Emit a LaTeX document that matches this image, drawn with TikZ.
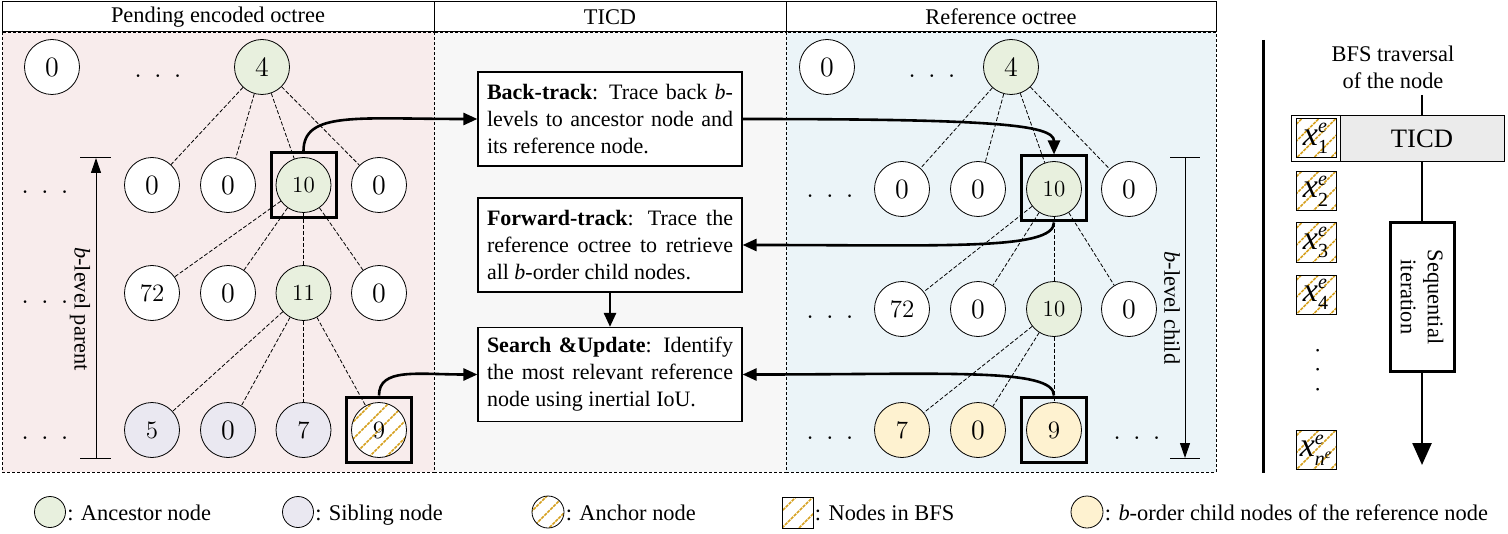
\documentclass[tikz,border=0pt]{standalone}
\usepackage{fontspec}
\setmainfont{Liberation Serif}
\newfontfamily\cmfont{Latin Modern Roman}
\usetikzlibrary{arrows.meta,calc}

\definecolor{ancG}{RGB}{232,240,222}
\definecolor{sibP}{RGB}{234,232,241}
\definecolor{chY}{RGB}{254,242,208}
\definecolor{bgL}{RGB}{248,236,236}
\definecolor{bgM}{RGB}{247,247,247}
\definecolor{bgR}{RGB}{235,244,248}
\definecolor{ticdG}{RGB}{235,235,235}
\definecolor{gold}{RGB}{214,160,30}

\newcommand{\scr}[1]{\mbox{\fontsize{10}{10}\selectfont #1}}
\newcommand{\xlabel}[1]{$\mbox{\itshape x}^{\scr{\itshape e}}_{\scr{#1}}$}

\tikzset{
 tn/.style={circle,draw,line width=0.4pt,minimum size=27.5pt,inner sep=0pt,fill=white,font=\cmfont\fontsize{12.5}{12.5}\selectfont},
 bignum/.style={font=\cmfont\fontsize{14}{14}\selectfont},
 smallnum/.style={font=\cmfont\fontsize{11.5}{11.5}\selectfont},
 anc/.style={fill=ancG}, sib/.style={fill=sibP}, chd/.style={fill=chY},
 hatchline/.style={draw=gold,line width=0.8pt,dash pattern=on 1.6pt off 0.5pt},
 hatched/.style={path picture={\foreach \d in {-68,-51,...,68}{\draw[hatchline] ([xshift=\d*0.5pt-30pt,yshift=-30pt]path picture bounding box.center) -- ++(60pt,60pt);}}},
 sq/.style={draw,line width=1.5pt,minimum size=32.5pt,inner sep=0pt},
 edge/.style={line width=0.4pt,dash pattern=on 2pt off 1pt},
 flow/.style={line width=1.3pt,-{Triangle[length=7pt,width=6pt]}},
 stepbox/.style={draw,line width=0.6pt,fill=white,text width=123pt,inner xsep=4.5pt,minimum height=47pt,align=justify,font=\fontsize{11}{13.5}\selectfont},
 hdr/.style={draw,line width=0.5pt,inner sep=0pt,minimum height=15pt,font=\fontsize{11.2}{13}\selectfont},
 txt/.style={font=\fontsize{11.2}{13.5}\selectfont},
 dots/.style={font=\cmfont\fontsize{14}{14}\selectfont,inner sep=0pt},
 panel/.style={line width=0.4pt,dash pattern=on 1.5pt off 1pt},
 bfsq/.style={draw,line width=0.5pt,fill=white,minimum width=20pt,minimum height=19.5pt,inner sep=0pt,hatched},
 xlab/.style={font=\fontsize{17}{17}\selectfont,inner sep=0pt},
 barrow/.style={line width=0.5pt,-{Triangle[length=7.5pt,width=5pt]}},
}

\begin{document}
\begin{tikzpicture}[x=0.5pt,y=-0.5pt]
\useasboundingbox (0,0) rectangle (1508,534);

% panels
\draw[panel,fill=bgL] (2,32) rectangle (434,472);
\draw[panel,fill=bgM] (434,32) rectangle (786,472);
\draw[panel,fill=bgR] (786,32) rectangle (1216,472);

% headers
\node[hdr,minimum width=216pt] (hL) at (218,17) {Pending encoded octree};
\node[hdr,minimum width=176pt] (hM) at (610,17) {TICD};
\node[hdr,minimum width=215pt] (hR) at (1001,17) {Reference octree};

% ---------- left tree ----------
\node[tn,bignum] (L0) at (52,67) {0};
\node[tn,bignum,anc] (L4) at (262,67) {4};
\node[tn,bignum] (La) at (152,185) {0};
\node[tn,bignum] (Lb) at (228,185) {0};
\node[tn,smallnum,anc] (Lc) at (303.5,185) {10};
\node[tn,bignum] (Ld) at (379,185) {0};
\node[tn] (Le) at (152,293) {72};
\node[tn,bignum] (Lf) at (228,293) {0};
\node[tn,smallnum,anc] (Lg) at (303.5,293) {11};
\node[tn,bignum] (Lh) at (379,293) {0};
\node[tn,sib] (Li) at (152,430) {5};
\node[tn,bignum,sib] (Lj) at (228,430) {0};
\node[tn,sib] (Lk) at (303.5,430) {7};
\node[tn,hatched] (Ll) at (379,430) {9};

\node[dots] (ld1) at (158,76) {. . .};
\node[dots] (ld2) at (45,192) {. . .};
\node[dots] (ld3) at (45,302) {. . .};
\node[dots] (ld4) at (45,438) {. . .};

\foreach \c in {La,Lb,Lc,Ld} \draw[edge] (L4) -- (\c);
\foreach \c in {Le,Lf,Lg,Lh} \draw[edge] (Lc) -- (\c);
\foreach \c in {Li,Lj,Lk,Ll} \draw[edge] (Lg) -- (\c);

\node[sq] (sqL10) at (303.5,185) {};
\node[sq] (sqL9) at (379,429.5) {};

% b-level parent
\coordinate (lpT) at (96,158);
\coordinate (lpB) at (96,458);
\draw[barrow] (lpB) -- (lpT);
\draw[line width=0.5pt] ([xshift=-8pt]lpT) -- ([xshift=7.5pt]lpT);
\draw[line width=0.5pt] ([xshift=-8pt]lpB) -- ([xshift=7.5pt]lpB);
\node[txt,rotate=-90] (lpl) at (80,309) {\textit{b}-level parent};

% ---------- right tree ----------
\node[tn,bignum] (R0) at (827,67) {0};
\node[tn,bignum,anc] (R4) at (1011,67) {4};
\node[tn,bignum] (Ra) at (902,189) {0};
\node[tn,bignum] (Rb) at (978,189) {0};
\node[tn,smallnum,anc] (Rc) at (1054,189) {10};
\node[tn,bignum] (Rd) at (1129,189) {0};
\node[tn] (Re) at (902,309) {72};
\node[tn,bignum] (Rf) at (978,309) {0};
\node[tn,smallnum,anc] (Rg) at (1054,309) {10};
\node[tn,bignum] (Rh) at (1129,309) {0};
\node[tn,chd] (Ri) at (902,430) {7};
\node[tn,bignum,chd] (Rj) at (978,430) {0};
\node[tn,chd] (Rk) at (1054,430) {9};

\node[dots] (rd1) at (932,76) {. . .};
\node[dots] (rd2) at (830,196) {. . .};
\node[dots] (rd3) at (830,317) {. . .};
\node[dots] (rd4) at (830,438) {. . .};
\node[dots] (rd5) at (1137,438) {. . .};

\foreach \c in {Ra,Rb,Rc,Rd} \draw[edge] (R4) -- (\c);
\foreach \c in {Re,Rf,Rg,Rh} \draw[edge] (Rc) -- (\c);
\foreach \c in {Ri,Rj,Rk} \draw[edge] (Rg) -- (\c);

\node[sq] (sqR10) at (1054,188.5) {};
\node[sq] (sqR9) at (1054,429.5) {};

% b-level child
\coordinate (rcT) at (1185,158);
\coordinate (rcB) at (1185,458);
\draw[barrow] (rcT) -- (rcB);
\draw[line width=0.5pt] ([xshift=-7.5pt]rcT) -- ([xshift=7.5pt]rcT);
\draw[line width=0.5pt] ([xshift=-7.5pt]rcB) -- ([xshift=7.5pt]rcB);
\node[txt,rotate=-90] (rcl) at (1172,308) {\textit{b}-level child};

% ---------- middle boxes ----------
\node[stepbox] (back) at (610,119) {\textbf{Back-track}: Trace back \textit{b}-\linebreak levels to ancestor node and\linebreak its reference node.};
\node[stepbox] (fwd) at (610,245) {\textbf{Forward-track}: Trace the\linebreak reference octree to retrieve\linebreak all \textit{b}-order child nodes.};
\node[stepbox] (search) at (610,374.5) {\textbf{Search \&Update}: Identify\linebreak the most relevant reference\linebreak node using inertial IoU.};

\draw[flow] (sqL10.north) .. controls +(0,-40) and +(-120,0) .. (back.west);
\draw[flow] (back.east) .. controls +(250,0) and +(0,-30) .. (sqR10.north);
\draw[flow] (sqR10.south) .. controls +(0,28) and +(200,0) .. (fwd.east);
\draw[flow] (fwd.south) -- (search.north);
\draw[flow] (sqR9.north) .. controls +(0,-28) and +(200,0) .. (search.east);
\draw[flow] (sqL9.north) .. controls +(0,-28) and +(-60,0) .. (search.west);

% ---------- far right ----------
\coordinate (sepT) at (1263,40);
\coordinate (sepB) at (1263,473);
\draw[line width=1.5pt] (sepT) -- (sepB);

\node[txt,align=center] (bfst) at (1393,67) {BFS traversal\\of the node};
\node[draw,line width=0.5pt,fill=ticdG,minimum width=82.5pt,minimum height=23pt,inner sep=0pt,font=\fontsize{13.3}{14}\selectfont] (ticd) at (1422,139) {TICD};
\node[draw,line width=0.5pt,fill=white,minimum width=24.5pt,minimum height=23pt,inner sep=0pt] (x1box) at (1315.5,139) {};
\node[draw,line width=1.5pt,minimum width=32pt,minimum height=74pt,inner sep=0pt] (seq) at (1422,297) {};
\node[txt,rotate=-90,align=center] (seqt) at (seq) {Sequential\\iteration};

\coordinate (bfsTop) at (1422,95);
\coordinate (bfsEnd) at (1422,465);
\draw[line width=1.3pt] (bfsTop) -- (ticd.north);
\draw[line width=1.3pt] (ticd.south) -- (seq.north);
\draw[line width=1.3pt,-{Triangle[length=11pt,width=9.5pt]}] (seq.south) -- (bfsEnd);

\node[bfsq] (x1) at (1316,138.5) {};
\node[bfsq] (x2) at (1316,191) {};
\node[bfsq] (x3) at (1316,242.5) {};
\node[bfsq] (x4) at (1316,294.5) {};
\node[bfsq] (xn) at (1316,450) {};
\node[xlab] (x1l) at (x1) {\xlabel{1}};
\node[xlab] (x2l) at (x2) {\xlabel{2}};
\node[xlab] (x3l) at (x3) {\xlabel{3}};
\node[xlab] (x4l) at (x4) {\xlabel{4}};
\node[xlab] (xnl) at (xn) {\xlabel{\itshape n\raisebox{3.5pt}{\fontsize{7}{7}\selectfont e}}};
\node[dots,rotate=90] (vd) at (1318,370) {. . .};

% ---------- legend ----------
\node[tn,anc,minimum size=15.5pt] (lgA) at (50,512) {};
\node[txt,anchor=base west,inner xsep=0.5pt] at ([yshift=-4pt]lgA.east) {: Ancestor node};
\node[tn,sib,minimum size=15.5pt] (lgS) at (298,512) {};
\node[txt,anchor=base west,inner xsep=0.5pt] at ([yshift=-4pt]lgS.east) {: Sibling node};
\node[tn,hatched,minimum size=16pt] (lgH) at (548,512) {};
\node[txt,anchor=base west,inner xsep=0.5pt] at ([yshift=-4pt]lgH.east) {: Anchor node};
\node[bfsq,minimum width=15.5pt,minimum height=15.5pt] (lgB) at (797.5,512.5) {};
\node[txt,anchor=base west,inner xsep=0.5pt] at ([yshift=-4pt]lgB.east) {: Nodes in BFS};
\node[tn,chd,minimum size=16pt] (lgC) at (1087,512) {};
\node[txt,anchor=base west,inner xsep=0.5pt] at ([yshift=-4pt]lgC.east) {: \textit{b}-order child nodes of the reference node};
\end{tikzpicture}
\end{document}
